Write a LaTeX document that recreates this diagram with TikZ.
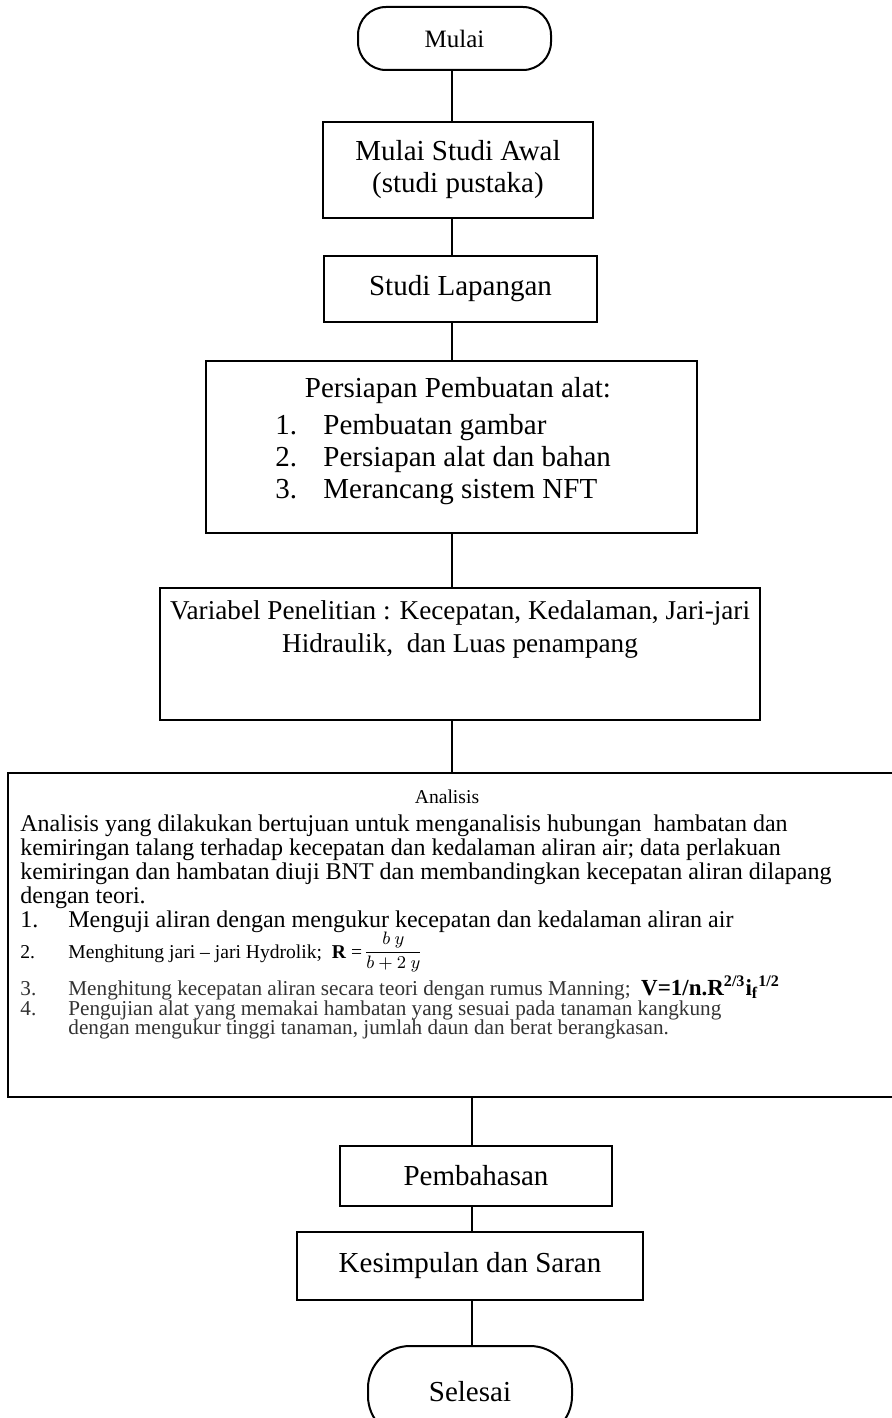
\documentclass[tikz,border=0pt]{standalone}
\usepackage{fontspec}
\setmainfont{Liberation Serif}
\newcommand\fbig{\fontsize{14.5}{16}\selectfont}
\newcommand\fvar{\fontsize{13.6}{16.5}\selectfont}
\newcommand\fmid{\fontsize{12.5}{14}\selectfont}
\newcommand\fbody{\fontsize{12}{12}\selectfont}
\newcommand\fitem{\fontsize{10.6}{10.6}\selectfont}
\newcommand\fsmall{\fontsize{9.8}{9.8}\selectfont}
\newcommand\ffrac{\fontsize{9}{9}\selectfont}
\definecolor{txtgray}{HTML}{333333}
\begin{document}
\begin{tikzpicture}[x=0.5pt,y=-0.5pt,
  box/.style={draw, line width=1pt, inner sep=0pt, align=center, font=\fbig},
  pill/.style={draw, line width=1pt, inner sep=0pt, align=center},
  conn/.style={line width=0.9pt},
  txt/.style={inner sep=0pt, anchor=base west, align=left}]
\useasboundingbox (0,0) rectangle (892,1418);

% axes of the connectors
\coordinate (axis) at (452,0);
\coordinate (axisb) at (472,0);

% nodes
\node[pill, rounded corners=14pt, minimum width=96.5pt, minimum height=31.5pt, font=\fmid] (mulai) at (454.5,38.5) {Mulai};
\node[box, minimum width=135pt, minimum height=48pt] (b1) at (458,170) {Mulai Studi Awal\\(studi pustaka)};
\node[box, minimum width=136.5pt, minimum height=33pt] (b2) at (460.5,289) {Studi Lapangan};
\node[box, minimum width=245.5pt, minimum height=86pt] (b3) at (451.5,447) {};
\node[box, minimum width=300pt, minimum height=66pt] (b4) at (460,654) {};
\node[box, minimum width=446pt, minimum height=162pt] (b5) at (454,935) {};
\node[box, minimum width=136pt, minimum height=30pt] (b6) at (476,1176) {Pembahasan};
\node[box, minimum width=173pt, minimum height=34pt] (b7) at (470,1266) {Kesimpulan dan Saran};
\node[pill, rounded corners=21pt, minimum width=102pt, minimum height=46pt, font=\fbig] (selesai) at (470,1392) {Selesai};

% texts inside Persiapan
\node[inner sep=0pt, font=\fbig] (b3t) at (458,391) {Persiapan Pembuatan alat:};
\node[txt, font=\fbig] (b3n1) at (275,434) {1.};
\node[txt, font=\fbig] (b3i1) at (323,434) {Pembuatan gambar};
\node[txt, font=\fbig] (b3n2) at (275,466) {2.};
\node[txt, font=\fbig] (b3i2) at (323,466) {Persiapan alat dan bahan};
\node[txt, font=\fbig] (b3n3) at (275,498) {3.};
\node[txt, font=\fbig] (b3i3) at (323,498) {Merancang sistem NFT};

% texts inside Variabel
\node[inner sep=0pt, font=\fvar, align=center] (b4t) at (460,629) {Variabel Penelitian : Kecepatan, Kedalaman, Jari-jari\\[0pt]Hidraulik,\ \ dan Luas penampang};

% texts inside Analisis
\node[inner sep=0pt, font=\fsmall] (b5t) at (447,797) {Analisis};
\node[txt, font=\fbody] (b5p) at (20,831) {Analisis yang dilakukan bertujuan untuk menganalisis hubungan\ \ hambatan dan};
\node[txt, font=\fbody] (b5p2) at (20,855) {kemiringan talang terhadap kecepatan dan kedalaman aliran air; data perlakuan};
\node[txt, font=\fbody] (b5p3) at (20,879) {kemiringan dan hambatan diuji BNT dan membandingkan kecepatan aliran dilapang};
\node[txt, font=\fbody] (b5p4) at (20,903) {dengan teori.};
\node[txt, font=\fbody] (n1) at (20,927) {1.};
\node[txt, font=\fbody] (i1) at (68,927) {Menguji aliran dengan mengukur kecepatan dan kedalaman aliran air};
\node[txt, font=\fsmall] (n2) at (20,958) {2.};
\node[txt, font=\fsmall] (i2) at (68,958) {Menghitung jari -- jari Hydrolik;\ \ \textbf{R} =};
\node[inner sep=0.5pt, font=\ffrac, anchor=west] (frac) at ([yshift=0.5pt]i2.east) {$\displaystyle\frac{b\ y}{b+2\ y}$};
\node[txt, font=\fitem, text=txtgray] (n3) at (20,995) {3.};
\node[txt, font=\fitem, text=txtgray] (i3) at (68,995) {Menghitung kecepatan aliran secara teori dengan rumus Manning;\ \ \textcolor{black}{\fontsize{11.5}{11.5}\selectfont\textbf{V=1/n.R\textsuperscript{2/3}i\textsubscript{f}\textsuperscript{1/2}}}};
\node[txt, font=\fitem, text=txtgray] (n4) at (20,1015) {4.};
\node[txt, font=\fitem, text=txtgray] (i4) at (68,1015) {Pengujian alat yang memakai hambatan yang sesuai pada tanaman kangkung};
\node[txt, font=\fitem, text=txtgray] (i4b) at (68,1034) {dengan mengukur tinggi tanaman, jumlah daun dan berat berangkasan.};

% connectors
\draw[conn] (mulai.south -| axis) -- (b1.north -| axis);
\draw[conn] (b1.south -| axis) -- (b2.north -| axis);
\draw[conn] (b2.south -| axis) -- (b3.north -| axis);
\draw[conn] (b3.south -| axis) -- (b4.north -| axis);
\draw[conn] (b4.south -| axis) -- (b5.north -| axis);
\draw[conn] (b5.south -| axisb) -- (b6.north -| axisb);
\draw[conn] (b6.south -| axisb) -- (b7.north -| axisb);
\draw[conn] (b7.south -| axisb) -- (selesai.north -| axisb);
\end{tikzpicture}
\end{document}
